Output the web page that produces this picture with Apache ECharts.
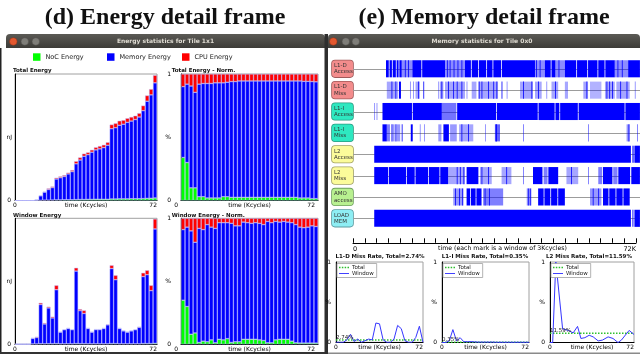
<!DOCTYPE html>
<html>
<head>
<meta charset="utf-8">
<title>Energy and memory detail frames</title>
<script src="https://cdn.jsdelivr.net/npm/echarts@6.0.0/dist/echarts.min.js"></script>
<style>
  html, body { margin: 0; padding: 0; background: #fff; }
  #chart { width: 640px; height: 354px; }
</style>
</head>
<body>
<div id="chart"></div>
<script>
// ---- energy frame: one bar per 2K-cycle window ----
const energySlots = ['0','2','4','6','8','10','12','14','16','18','20','22','24','26','28','30','32','34',
  '36','38','40','42','44','46','48','50','52','54','56','58','60','62','64','66','68','70'];
const totalNoc = [0,0,0,0,0,0.1,0.2,0.3,0.3,0.4,0.5,0.5,0.6,0.6,0.6,0.7,0.8,0.8,0.9,0.9,1.0,1.0,1.0,1.0,1.2,1.2,1.3,1.3,1.3,1.4,1.4,1.4,1.5,1.7,1.8,2.0];
const totalMem = [0,0,0,0,0,0.4,3.5,6.3,8.4,9.8,16.5,17.5,18.4,20.4,22.2,28.3,31.2,34.2,35.3,37.3,39.0,39.8,40.8,42.7,55.5,56.3,58.2,59.0,60.5,61.4,62.6,64.6,69.5,76.8,81.7,91.0];
const totalCpu = [0,0,0,0,0,0,0.3,0.4,0.8,0.8,1.0,1.0,1.0,1.0,1.2,2.0,2.0,2.0,1.8,1.8,2.0,2.2,2.2,2.3,3.3,3.5,3.5,3.2,3.2,3.2,3.0,3.0,4.0,4.5,4.5,6.0];
const windowNoc = [0,0,0,0,0.3,0.3,0.5,0.4,0.5,0.5,0.6,0.4,0.4,0.4,0.4,0.6,0.5,0.5,0.4,0.4,0.4,0.4,0.4,0.4,0.6,0.6,0.4,0.4,0.4,0.4,0.4,0.4,0.6,0.6,0.6,0.8];
const windowMem = [0,0,0,0,4.4,5.1,31.2,15.8,28.5,20.5,42.9,9.3,11.2,12.2,11.2,57.8,26.3,24.1,12.2,9.3,11.3,11.3,12.2,15.1,59.8,50.9,12.2,10.3,9.3,10.3,11.2,13.1,53.4,54.9,42.2,91.2];
const windowCpu = [0,0,0,0,0.3,0.6,1.3,0.8,1.0,1.0,3.5,0.3,0.4,0.4,0.4,2.6,1.2,2.4,0.4,0.3,0.3,0.3,0.4,0.5,2.6,3.5,0.4,0.3,0.3,0.3,0.4,0.5,3.0,3.5,4.2,8.0];

// normalised views (percent of each bar)
const normSlots = ['4','6','8','10','12','14','16','18','20','22','24','26','28','30','32','34','36',
  '38','40','42','44','46','48','50','52','54','56','58','60','62','64','66','68','70'];
const totalNormNoc = [34,30,10,10,3,3,2,2,2,2,3,3,2.5,2.5,2.5,2.5,2.5,2.5,2.5,2.5,2.5,2.5,2.5,2.5,2.5,2.5,2.5,2.5,2.5,2,2,2,1.5,1.5];
const totalNormMem = [56,62,80.5,75.5,89,89.5,90.5,90.5,91,91,90,90.5,91.5,91.5,92,92,92,92,92,92,92,92,92,92,92,92,92,92,92,92.5,92.2,92.2,92.5,92.3];
const totalNormCpu = [10,8,9.5,14.5,8,7.5,7.5,7.5,7,7,7,6.5,6,6,5.5,5.5,5.5,5.5,5.5,5.5,5.5,5.5,5.5,5.5,5.5,5.5,5.5,5.5,5.5,5.5,5.8,5.8,6,6.2];
const windowNormNoc = [35,30,8,9,1.5,2.5,2,3.5,1.2,4,3.5,4.5,1.5,2,2,4,4,4,4,3.5,3,1.2,1.2,3.5,4,4,4,2.5,1.2,1,1,1,1,1];
const windowNormMem = [56,63,82,72,90.5,88.5,93,89.5,90.8,92.5,93,92,94.5,92,92,93,92.5,92,92.5,92.5,92,96.3,95.3,94,93,93.5,93,94,93.8,92,91.5,92,93,92.5];
const windowNormCpu = [9,7,10,19,8,9,5,7,8,3.5,3.5,3.5,4,6,6,3,3.5,4,3.5,4,5,2.5,3.5,2.5,3,2.5,3,3.5,5,7,7.5,7,6,6.5];

// ---- memory frame: event marks per track, [startK, endK, intensity] ----
const memRows = ['L1-D\nAccess','L1-D\nMiss','L1-I\nAccess','L1-I\nMiss','L2\nAccess','L2\nMiss','AMO\naccess','LOAD\nMEM'];
const l1dAccess = [[8.4,9.1,1],[9.3,9.9,1],[10.1,10.9,1],[11.1,11.6,1],[11.8,12.4,1],[12.4,15.1,0.45],[13.2,13.4,1],[14.0,14.2,1],
  [15.1,17.4,1],[17.6,23.4,1],[23.4,28.5,0.45],[23.9,24.1,1],[24.6,24.8,1],[25.6,25.8,1],[26.6,26.8,1],[27.6,27.8,1],
  [28.5,30.0,1],[30.2,31.8,1],[32.0,33.9,1],[34.1,35.5,1],[35.7,37.7,1],[37.9,46.3,1],[46.3,48.8,0.45],[46.6,46.8,1],[47.5,47.7,1],
  [48.8,50.3,1],[50.5,51.5,1],[51.5,53.9,0.45],[52.3,52.5,1],[53.9,56.8,1],[57.0,59.6,1],[59.8,62.2,1],[62.4,64.0,1],[64.2,66.6,1],
  [66.6,70.0,0.45],[67.3,67.5,1],[68.4,68.6,1],[70.0,73.0,1]];
const l1dMiss = [[8.6,11.5,0.35],[9.8,10.0,1],[10.8,11.0,1],[11.7,12.2,1],[14.5,14.7,0.5],[15.3,15.5,0.5],[15.9,17.0,0.35],[16.6,16.8,1],[17.9,18.1,1],
  [21.7,21.9,0.5],[22.1,23.0,0.35],[22.5,22.7,1],[23.4,28.5,0.35],[24.2,24.4,1],[25.5,25.7,1],[26.4,26.6,1],[27.6,27.8,1],
  [28.9,29.1,0.5],[30.2,31.4,0.35],[31.9,36.9,0.35],[32.0,32.2,1],[32.7,32.9,1],[34.4,34.6,1],[35.7,35.9,1],[36.5,36.7,1],
  [37.8,38.0,1],[39.1,39.3,0.5],[42.5,45.8,0.35],[43.3,43.5,1],[45.4,45.6,1],[46.3,48.0,0.35],[47.1,47.3,1],[49.2,49.4,0.5],
  [50.5,52.2,0.35],[51.4,51.6,1],[53.9,54.7,0.35],[58.6,59.8,0.35],[59.4,59.6,1],[60.3,63.2,0.3],[64.1,66.6,0.35],[64.5,64.7,1],
  [65.2,65.4,1],[65.9,66.1,1],[67.0,70.4,0.35],[68.0,68.2,1],[69.6,69.8,1],[71.7,71.9,0.5]];
const l1iAccess = [[5.4,5.6,0.5],[6.0,6.2,0.5],[7.5,15.0,1],[15.2,22.6,1],[22.6,26.3,0.55],[26.5,36.4,1],[36.6,47.0,1],
  [47.2,51.3,1],[51.5,52.5,1],[52.7,57.2,1],[57.4,69.1,1],[69.3,73.0,1]];
const l1iMiss = [[7.5,8.6,1],[8.6,9.4,0.5],[9.8,10.0,1],[10.0,10.6,0.4],[10.8,11.0,1],[11.0,12.0,0.4],[12.4,12.6,1],[14.7,15.2,1],
  [17.0,17.2,0.5],[18.1,18.3,0.5],[21.7,22.5,0.4],[23.0,24.4,1],[24.7,26.4,0.4],[27.0,30.6,0.35],[27.6,27.8,1],[29.3,29.5,1],
  [33.6,33.8,0.5],[36.1,37.4,0.6],[36.3,36.6,1],[43.3,43.5,0.6],[59.8,60.0,0.6],[69.6,70.4,0.4],[70.1,70.3,1],[72.3,72.5,0.6]];
const l2Access = [[5.4,70.7,1],[71.0,71.5,0.6],[71.6,73.0,1]];
const l2Miss = [[5.4,8.9,1],[9.1,13.5,1],[13.7,15.7,1],[15.9,19.1,1],[19.3,22.0,1],[22.2,24.2,1],[24.2,28.5,0.35],[26.4,26.6,1],
  [27.2,27.4,1],[28.1,28.3,1],[28.9,31.9,1],[32.3,35.3,0.35],[32.7,32.9,1],[34.4,34.6,1],[37.8,40.3,0.35],[39.0,39.2,1],
  [43.3,43.5,0.6],[45.8,48.2,1],[48.5,49.5,0.5],[49.7,52.2,1],[54.3,57.3,0.35],[55.5,55.7,1],[59.8,60.0,0.6],[62.4,63.4,0.5],
  [63.6,66.0,1],[66.2,67.3,0.5],[67.5,70.5,1],[70.8,73.0,1]];
const amoAccess = [[25.5,28.1,0.4],[26.0,26.2,1],[27.0,27.2,1],[27.8,28.0,1],[28.9,29.8,1],[30.0,31.2,1],[31.4,32.7,1],
  [33.1,38.2,0.5],[33.5,33.7,1],[34.6,34.8,1],[44.2,45.4,0.4],[44.5,44.7,1],[45.0,45.2,1],[47.1,48.5,1],[48.7,50.2,1],
  [50.4,52.0,1],[52.2,53.9,1],[60.3,63.2,0.4],[61.0,61.2,1],[62.4,62.6,1],[63.6,65.0,1],[65.2,66.8,1],[67.0,68.6,1],[68.8,70.4,1]];
const loadMem = [[5.4,70.7,1],[71.0,71.4,0.6],[71.6,73.0,1]];
const memTracks = [l1dAccess, l1dMiss, l1iAccess, l1iMiss, l2Access, l2Miss, amoAccess, loadMem];

// ---- miss rates, [timeK, rate] ----
const l1dWindow = [[0,0],[3,0],[6,0],[9,0.03],[12,0.1],[15,0.01],[18,0.04],[21,0],[24,0.02],[27,0.04],[30,0.03],[33,0.24],
  [36,0.23],[39,0.03],[42,0],[45,0],[48,0.04],[51,0.21],[54,0.17],[57,0.02],[60,0],[63,0],[66,0.06],[69,0.2],[72,0]];
const l1iWindow = [[0,0],[3,0],[6,0.02],[9,0.16],[12,0.02],[15,0.06],[18,0.01],[21,0.01],[24,0.01],[27,0.008],[30,0.005],
  [33,0.005],[36,0.005],[39,0.005],[42,0.005],[45,0.003],[48,0.003],[51,0.003],[54,0.003],[57,0.003],[60,0.003],[63,0.003],
  [66,0.003],[69,0.003],[72,0.003]];
const l2Window = [[0,0],[2.3,0],[5,1.0],[10.8,0.17],[15.6,0.15],[19.9,0.12],[21.5,0.14],[23.6,0.2],[26.5,0.05],[29.9,0.06],
  [33.6,0.09],[37,0.07],[41.3,0.02],[45,0.03],[49.8,0.07],[54,0.05],[58.3,0],[61.2,0.03],[67.8,0.15],[72,0.1]];
const missTotals = [0.0274, 0.0035, 0.1159];
const missTitles = ['L1-D Miss Rate, Total=2.74%', 'L1-I Miss Rate, Total=0.35%', 'L2 Miss Rate, Total=11.59%'];
const missLabels = ['2.74%', '0.35%', '11.59%'];

// ---- styles ----
const UI = '"DejaVu Sans", sans-serif';
const txt = { color: '#000', fontSize: 6, fontFamily: UI };
const blackLine = { show: true, lineStyle: { color: '#000', width: 1 } };
const noLine = { show: false };
const rowFill = ['#f38c8c','#f38c8c','#2ee8c0','#2ee8c0','#fbfb9a','#fbfb9a','#b8f090','#8eeef4'];
const rowEdge = ['#a05a5a','#a05a5a','#2a9a80','#2a9a80','#a0a060','#a0a060','#70a060','#5a9aa0'];
const frame = { show: true, borderColor: '#a0a0a0', borderWidth: 1, backgroundColor: '#fff' };

const chart = echarts.init(document.getElementById('chart'));

function slotAxis(gi, data) {
  return { type: 'category', gridIndex: gi, position: 'bottom', data, axisLine: blackLine,
    axisTick: noLine, axisLabel: noLine, splitLine: noLine };
}
function timeAxis(gi, margin, minAlign, pad) {
  return { type: 'value', gridIndex: gi, position: 'bottom', min: 0, max: 72, interval: 72,
    axisLine: noLine, axisTick: noLine, splitLine: noLine,
    axisLabel: { ...txt, margin, alignMinLabel: minAlign, alignMaxLabel: 'right', padding: [0, pad, 0, 0] },
    name: 'time (Kcycles)', nameLocation: 'middle', nameGap: margin, nameMoveOverlap: false, nameTextStyle: txt };
}
function njAxis(gi, max) {
  return { type: 'value', gridIndex: gi, min: 0, max, interval: max, axisLine: blackLine,
    axisTick: noLine, splitLine: noLine,
    axisLabel: { ...txt, margin: 4, formatter: v => (v === 0 ? '0' : '') },
    name: 'nJ', nameLocation: 'middle', nameRotate: 0, nameGap: 3, nameMoveOverlap: false, nameTextStyle: txt };
}
function pctAxis(gi, max, margin) {
  return { type: 'value', gridIndex: gi, min: 0, max, interval: max, axisLine: blackLine,
    axisTick: noLine, splitLine: noLine,
    axisLabel: { ...txt, margin, formatter: v => (v === 0 ? '0' : '1') },
    name: '%', nameLocation: 'middle', nameRotate: 0, nameGap: margin, nameMoveOverlap: false, nameTextStyle: txt };
}
function energySeries(xi, yi, noc, mem, cpu, stack) {
  const base = { type: 'bar', xAxisIndex: xi, yAxisIndex: yi, stack, barCategoryGap: '0%', silent: true };
  const edge = { borderColor: 'rgba(185,185,255,0.9)', borderWidth: 0.5 };
  return [
    { ...base, name: 'NoC Energy', data: noc, itemStyle: { color: '#00ff00', ...edge } },
    { ...base, name: 'Memory Energy', data: mem, itemStyle: { color: '#0000ff', ...edge } },
    { ...base, name: 'CPU Energy', data: cpu, itemStyle: { color: '#ff0000', ...edge } }
  ];
}

const memMarks = [];
memTracks.forEach((track, row) => track.forEach(m => memMarks.push([m[0], row, m[1], m[2]])));

const missData = [l1dWindow, l1iWindow, l2Window];
const missSeries = [];
missData.forEach((pts, k) => {
  missSeries.push({
    name: 'Total', type: 'line', xAxisIndex: 9 + k, yAxisIndex: 5 + k, symbol: 'circle', symbolSize: 0.01,
    showSymbol: true, silent: true, itemStyle: { color: '#2fbf2f' },
    lineStyle: { color: '#2fbf2f', width: 1.5, type: [1.5, 1.5] },
    data: [{ value: [0, missTotals[k]], label: { show: true, formatter: missLabels[k], position: 'top', align: 'left',
      distance: 0, fontSize: 5.5, fontFamily: UI, color: '#222' } }, [72, missTotals[k]]]
  });
  missSeries.push({
    name: 'Window', type: 'line', xAxisIndex: 9 + k, yAxisIndex: 5 + k, symbol: 'none', silent: true,
    itemStyle: { color: '#3535ff' }, lineStyle: { color: '#3535ff', width: 1 }, data: pts
  });
});

const missLegend = left => ({
  left, top: 263.5, orient: 'vertical', selectedMode: false, itemWidth: 10, itemHeight: 3, itemGap: 0,
  padding: [1, 3, 1, 2], backgroundColor: '#fff', borderColor: '#a0a0a0', borderWidth: 0.8,
  textStyle: { fontSize: 5.5, fontFamily: UI, color: '#222', padding: [0, 0, 0, -2] },
  data: [
    { name: 'Total', icon: 'path://M0,0h1.6v1.6H0zM3,0h1.6v1.6H3zM6,0h1.6v1.6H6zM9,0h1.6v1.6H9z' },
    { name: 'Window', icon: 'path://M0,0h10.6v1H0z' }
  ]
});
const energyLegend = (name, left) => ({
  left, top: 53.3, padding: 0, selectedMode: false, icon: 'rect', itemWidth: 7.5, itemHeight: 7.5,
  itemStyle: { borderWidth: 0 }, textStyle: { fontSize: 6.5, fontFamily: UI, color: '#222' }, data: [name]
});

// window chrome (decoration only)
const barFill = new echarts.graphic.LinearGradient(0, 0, 0, 1, [
  { offset: 0, color: '#5b5a55' }, { offset: 1, color: '#3c3b37' }]);
function titleBar(x, w, cx, text, dots) {
  return [
    { type: 'rect', shape: { x, y: 34, width: w, height: 14, r: [4, 4, 0, 0] }, style: { fill: barFill } },
    { type: 'circle', shape: { cx: dots[0], cy: 41.5, r: 3.8 }, style: { fill: '#e3582f', stroke: '#8a3118', lineWidth: 0.5 } },
    { type: 'circle', shape: { cx: dots[1], cy: 41.5, r: 3.8 }, style: { fill: '#7e7d78', stroke: '#4a4945', lineWidth: 0.5 } },
    { type: 'circle', shape: { cx: dots[2], cy: 41.5, r: 3.8 }, style: { fill: '#7e7d78', stroke: '#4a4945', lineWidth: 0.5 } },
    { type: 'text', x: cx, y: 41.5, style: { text, font: 'bold 6px "DejaVu Sans"', fill: '#dfdbd2',
      textAlign: 'center', textVerticalAlign: 'middle' } }
  ];
}
function label(x, y, text, font, align) {
  return { type: 'text', x, y, style: { text, font, fill: '#111', textAlign: align || 'left', textVerticalAlign: 'middle' } };
}
const small = 'bold 5.5px "DejaVu Sans"';

const option = {
  animation: false,
  backgroundColor: '#fff',
  grid: [
    { left: 15, top: 74, width: 142, height: 126.5, ...frame },
    { left: 181, top: 74, width: 137, height: 126.5, ...frame },
    { left: 15, top: 218.3, width: 142, height: 126, ...frame },
    { left: 181, top: 218.3, width: 137, height: 126, ...frame },
    { left: 353, top: 58.1, width: 283, height: 170.9 },
    { left: 336, top: 262, width: 87, height: 80.3, ...frame },
    { left: 442, top: 262, width: 87, height: 80.5, ...frame },
    { left: 550, top: 262, width: 84, height: 80.5, ...frame }
  ],
  legend: [
    energyLegend('NoC Energy', 33), energyLegend('Memory Energy', 107), energyLegend('CPU Energy', 182),
    missLegend(337), missLegend(443), missLegend(551)
  ],
  xAxis: [
    slotAxis(0, energySlots), timeAxis(0, 2, 'center', 0),
    slotAxis(1, normSlots), timeAxis(1, 2, 'right', 3),
    slotAxis(2, energySlots), timeAxis(2, 1.7, 'center', 0),
    slotAxis(3, normSlots), timeAxis(3, 1.7, 'right', 3),
    { type: 'value', gridIndex: 4, position: 'bottom', offset: 13.8, min: 0, max: 72, interval: 3,
      axisLine: blackLine, axisTick: { show: true, inside: true, length: 4.5, lineStyle: { color: '#000' } },
      splitLine: noLine,
      axisLabel: { ...txt, fontSize: 6.5, margin: 3, alignMinLabel: 'left', alignMaxLabel: 'right',
        formatter: v => (v === 0 ? '0' : v === 72 ? '72K' : '') },
      name: 'time (each mark is a window of 3Kcycles)', nameLocation: 'middle', nameGap: 3, nameMoveOverlap: false,
      nameTextStyle: { ...txt, fontSize: 6.2, padding: [0, 0, 0, 16] } },
    { ...timeAxis(5, 2, 'center', 0), axisLine: blackLine },
    { ...timeAxis(6, 2, 'center', 0), axisLine: blackLine },
    { ...timeAxis(7, 2, 'center', 0), axisLine: blackLine }
  ],
  yAxis: [
    njAxis(0, 100), pctAxis(1, 100, 10), njAxis(2, 100.5), pctAxis(3, 100, 10),
    { type: 'category', gridIndex: 4, inverse: true, axisLine: noLine, axisTick: noLine, splitLine: noLine,
      data: memRows.map((r, i) => ({ value: r, textStyle: { backgroundColor: rowFill[i], borderColor: rowEdge[i] } })),
      axisLabel: { interval: 0, margin: 0, fontSize: 5.5, lineHeight: 6.3, fontFamily: UI, color: '#333',
        padding: [2, 2, 2, 2], borderWidth: 0.8, borderRadius: 3,
        formatter: v => v.split('\n').map(s => '{t|' + s + '}').join('\n'),
        rich: { t: { width: 17, align: 'left', fontSize: 5.5, lineHeight: 6.3, fontFamily: UI, color: '#333' } } } },
    pctAxis(5, 1, 5), pctAxis(6, 1, 5), pctAxis(7, 1, 5)
  ],
  series: [
    ...energySeries(0, 0, totalNoc, totalMem, totalCpu, 'total'),
    ...energySeries(2, 1, totalNormNoc, totalNormMem, totalNormCpu, 'totalNorm'),
    ...energySeries(4, 2, windowNoc, windowMem, windowCpu, 'window'),
    ...energySeries(6, 3, windowNormNoc, windowNormMem, windowNormCpu, 'windowNorm'),
    {
      type: 'custom', xAxisIndex: 8, yAxisIndex: 4, silent: true,
      data: memRows.map((r, i) => [0, i]),
      renderItem(params, api) {
        const y = Math.round(api.coord([0, api.value(1)])[1]) + 0.5;
        const cs = params.coordSys;
        return { type: 'line', shape: { x1: cs.x, y1: y, x2: cs.x + cs.width + 6, y2: y },
          style: { stroke: '#9c9c9c', lineWidth: 1 } };
      }
    },
    {
      type: 'custom', xAxisIndex: 8, yAxisIndex: 4, silent: true, clip: false,
      encode: { x: [0, 2], y: 1 },
      data: memMarks,
      renderItem(params, api) {
        const p0 = api.coord([api.value(0), api.value(1)]);
        const p1 = api.coord([api.value(2), api.value(1)]);
        const h = api.size([0, 1])[1] * 0.8;
        return { type: 'rect', shape: { x: p0[0], y: p0[1] - h / 2, width: Math.max(p1[0] - p0[0], 0.8), height: h },
          style: { fill: '#0000ff', opacity: api.value(3) } };
      }
    },
    ...missSeries
  ],
  graphic: [
    label(165, 18, '(d) Energy detail frame', 'bold 24px "Liberation Serif"', 'center'),
    label(484, 18, '(e) Memory detail frame', 'bold 24px "Liberation Serif"', 'center'),
    ...titleBar(6, 319, 165.5, 'Energy statistics for Tile 1x1', [13.3, 24.8, 35.8]),
    ...titleBar(328, 312, 482, 'Memory statistics for Tile 0x0', [333.3, 345.8, 355.8]),
    { type: 'rect', shape: { x: 324.5, y: 34, width: 3.5, height: 320 }, style: { fill: '#2e2e2e' } },
    { type: 'rect', shape: { x: 0, y: 48, width: 1.5, height: 306 }, style: { fill: '#222' } },
    { type: 'rect', shape: { x: 0, y: 352, width: 325, height: 2 }, style: { fill: '#333' } },
    { type: 'rect', shape: { x: 328, y: 352.5, width: 312, height: 1.5 }, style: { fill: '#8a8a8a' } },
    label(13, 71, 'Total Energy', small),
    label(171.7, 71, 'Total Energy - Norm.', small),
    label(13, 215.2, 'Window Energy', small),
    label(171.7, 215.2, 'Window Energy - Norm.', small),
    label(380, 256.5, missTitles[0], small, 'center'),
    label(485, 256.5, missTitles[1], small, 'center'),
    label(589, 256.5, missTitles[2], small, 'center')
  ]
};
chart.setOption(option);
</script>
</body>
</html>
